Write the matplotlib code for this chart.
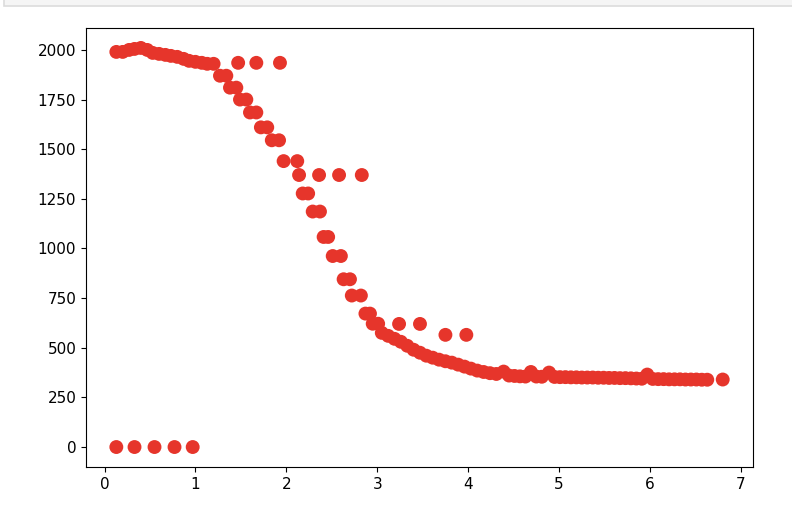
import numpy as np
import matplotlib.pyplot as plt
from matplotlib.patches import Rectangle

# main curve
x_main = [0.13, 0.20, 0.27, 0.33, 0.40, 0.47, 0.53, 0.60, 0.67, 0.73, 0.80, 0.87, 0.93, 1.00,
          1.07, 1.13, 1.20, 1.27, 1.34, 1.38, 1.45, 1.49, 1.56, 1.60, 1.67, 1.72, 1.79, 1.84, 1.92,
          1.97, 2.12, 2.14, 2.18, 2.24, 2.29, 2.37, 2.41, 2.46, 2.51, 2.60, 2.63, 2.70, 2.72, 2.82,
          2.87, 2.92, 2.95, 3.01,
          3.05, 3.12, 3.19, 3.26, 3.33, 3.40, 3.47, 3.54, 3.61, 3.68, 3.75, 3.82, 3.89, 3.96, 4.03,
          4.10, 4.17, 4.24, 4.31, 4.39, 4.45, 4.51, 4.57, 4.63, 4.69, 4.75, 4.81, 4.89, 4.95, 5.01,
          5.07, 5.13, 5.19, 5.25, 5.31, 5.37, 5.43, 5.49, 5.55, 5.61, 5.67, 5.73, 5.79, 5.85, 5.91,
          5.97, 6.03, 6.09, 6.15, 6.21, 6.27, 6.33, 6.39, 6.45, 6.51, 6.57, 6.63, 6.80]
y_main = [1990, 1990, 2000, 2005, 2010, 2000, 1985, 1980, 1975, 1970, 1965, 1955, 1945, 1940,
          1935, 1930, 1930, 1870, 1870, 1810, 1810, 1750, 1750, 1685, 1685, 1610, 1610, 1545, 1545,
          1440, 1440, 1370, 1277, 1277, 1186, 1186, 1058, 1058, 962, 962, 845, 845, 763, 763,
          672, 672, 621, 621,
          575, 560, 545, 530, 510, 490, 475, 460, 450, 440, 432, 425, 415, 405, 395,
          385, 378, 372, 368, 380, 360, 358, 356, 355, 378, 355, 354, 375, 353, 352,
          352, 351, 351, 350, 350, 350, 349, 349, 348, 348, 347, 347, 346, 345, 344,
          365, 343, 342, 342, 341, 341, 341, 340, 340, 340, 339, 339, 340]

# points lying off the curve
x_off = [1.47, 1.67, 1.93, 2.36, 2.58, 2.83, 3.24, 3.47, 3.75, 3.98, 0.13, 0.33, 0.55, 0.77, 0.97]
y_off = [1935, 1935, 1935, 1370, 1370, 1370, 620, 620, 565, 565, 0, 0, 0, 0, 0]

x = np.array(x_main + x_off)
y = np.array(y_main + y_off)

fig = plt.figure(figsize=(7.92, 5.24), dpi=100)
fig.patches.append(Rectangle((4 / 792, 1 - 6 / 524), 1, 0.02, transform=fig.transFigure,
                             facecolor="#f5f5f5", edgecolor="#dcdcdc", lw=1.2))
ax = fig.add_axes([0.1086, 0.1088, 0.8422, 0.8378])
ax.scatter(x, y, s=100, color="#e6352b", edgecolors="none")
ax.tick_params(labelsize=11)
plt.savefig("out.png", dpi=100)
